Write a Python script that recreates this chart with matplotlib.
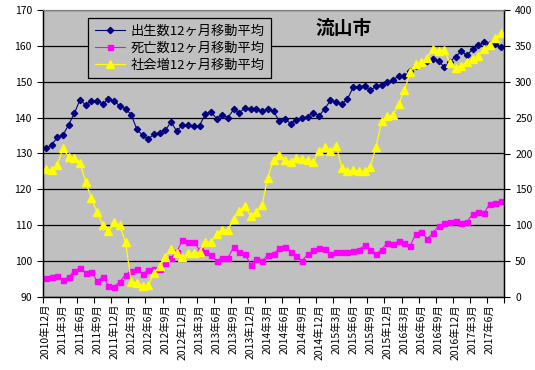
import matplotlib
matplotlib.use("Agg")
import matplotlib.pyplot as plt
import numpy as np

plt.rcParams['font.family'] = ['Noto Sans CJK JP', 'DejaVu Sans']

# 12-month moving averages, monthly from 2010/12 to 2017/8
births = [131.4, 132.3, 134.5, 135.1, 138.0, 141.2, 145.0, 143.5, 144.7, 144.7,
          143.8, 145.1, 144.7, 143.2, 142.5, 140.8, 136.7, 135.1, 134.1, 135.3,
          135.8, 136.5, 138.8, 136.2, 138.0, 138.0, 137.6, 137.8, 140.9, 141.7,
          139.7, 140.8, 140.0, 142.3, 141.4, 142.7, 142.3, 142.3, 141.8, 142.3,
          141.9, 139.0, 139.7, 138.3, 139.4, 139.9, 140.2, 141.4, 140.5, 142.4,
          144.8, 144.3, 143.8, 145.2, 148.5, 148.5, 148.9, 147.6, 148.7, 149.2,
          149.8, 150.5, 151.6, 151.6, 152.9, 154.3, 155.2, 155.8, 156.3, 155.8,
          154.1, 155.6, 157.0, 158.5, 157.4, 159.1, 160.2, 161.0, 160.4, 160.6,
          159.6]
deaths = [95.4, 95.6, 95.9, 94.7, 95.6, 97.3, 98.1, 96.8, 96.9, 94.5,
          95.6, 93.2, 92.9, 94.3, 96.2, 97.3, 97.9, 96.5, 97.5, 97.8,
          97.9, 99.4, 100.9, 102.6, 105.8, 105.4, 105.4, 103.1, 102.6, 101.7,
          100.1, 100.9, 100.9, 103.9, 102.6, 101.9, 99.0, 100.6, 100.1, 101.7,
          102.0, 103.6, 103.8, 102.6, 101.4, 100.1, 101.9, 103.0, 103.7, 103.3,
          101.9, 102.6, 102.6, 102.6, 102.9, 103.2, 104.4, 103.2, 101.9, 103.2,
          105.1, 104.7, 105.6, 105.1, 104.3, 107.5, 108.1, 106.1, 107.9, 109.7,
          110.5, 110.8, 111.2, 110.6, 110.9, 113.2, 113.7, 113.4, 116.0, 116.2,
          116.8]
social = [178.9, 176.6, 183.6, 207.0, 195.3, 193.9, 187.4, 160.2, 137.7, 118.5,
          100.7, 91.3, 104.0, 99.8, 76.3, 21.1, 19.7, 15.9, 16.9, 32.8,
          43.5, 56.0, 66.5, 61.4, 55.3, 61.0, 61.0, 62.3, 76.3, 76.3,
          87.6, 93.7, 93.7, 108.7, 120.4, 127.4, 112.4, 118.5, 128.8, 166.3,
          191.5, 198.1, 191.1, 188.3, 194.4, 193.0, 191.1, 188.3, 203.7, 208.9,
          203.7, 210.7, 180.4, 175.7, 177.1, 175.7, 175.7, 181.8, 208.4, 244.9,
          251.9, 253.7, 269.4, 288.0, 313.0, 324.5, 328.2, 332.9, 345.4, 343.5,
          344.4, 325.9, 319.0, 322.2, 327.8, 331.5, 336.1, 346.3, 351.4, 360.6,
          368.5]
tick_labels = ["2010年12月", "2011年3月", "2011年6月", "2011年9月", "2011年12月",
               "2012年3月", "2012年6月", "2012年9月", "2012年12月",
               "2013年3月", "2013年6月", "2013年9月", "2013年12月",
               "2014年3月", "2014年6月", "2014年9月", "2014年12月",
               "2015年3月", "2015年6月", "2015年9月", "2015年12月",
               "2016年3月", "2016年6月", "2016年9月", "2016年12月",
               "2017年3月", "2017年6月"]
labels = ["出生数12ヶ月移動平均", "死亡数12ヶ月移動平均", "社会増12ヶ月移動平均"]

x = np.arange(len(births))

fig = plt.figure(figsize=(5.35, 3.7), dpi=100)
ax = fig.add_axes([43/535, 1-297/370, (504-43)/535, (297-10)/370])
ax.set_facecolor('#C0C0C0')
ax2 = ax.twinx()

l1, = ax.plot(x, births, color='#000080', lw=0.8, marker='D', ms=3.2, label=labels[0])
l2, = ax.plot(x, deaths, color='#FF00FF', lw=0.8, marker='s', ms=3.6, label=labels[1])
l3, = ax2.plot(x, social, color='#FFFF00', lw=0.9, marker='^', ms=5.5, label=labels[2])

ax.set_xlim(-0.5, len(x) - 0.5)
ax.set_ylim(90, 170)
ax.set_yticks(np.arange(90, 171, 10))
ax2.set_ylim(0, 400)
ax2.set_yticks(np.arange(0, 401, 50))
ax.yaxis.grid(True, color='black', lw=0.9)
ax.set_axisbelow(True)

ax.set_xticks(x[::3])
ax.set_xticklabels(tick_labels, rotation=90, fontsize=7.5)
ax.set_xticks(np.arange(-0.5, len(x), 3), minor=True)
ax.tick_params(axis='x', which='major', length=0, pad=5)
ax.tick_params(axis='x', which='minor', length=4, direction='out', width=0.8)
ax.tick_params(axis='y', labelsize=7.5, length=4, width=0.8, pad=4)
ax2.tick_params(axis='y', labelsize=7.5, length=4, width=0.8, pad=4)

for a in (ax, ax2):
    a.spines['top'].set_color('#808080')
    for s in ('left', 'right', 'bottom'):
        a.spines[s].set_linewidth(0.9)

leg = ax2.legend(handles=[l1, l2, l3], loc='upper left',
                 bbox_to_anchor=(88/535, 1-18/370), bbox_transform=fig.transFigure,
                 borderaxespad=0, fontsize=9.5, facecolor='#C0C0C0', edgecolor='black',
                 fancybox=False, framealpha=1, handlelength=2.3, labelspacing=0.3,
                 borderpad=0.5, handletextpad=0.4)
leg.get_frame().set_linewidth(0.9)

fig.text(344/535, 1-28/370, "流山市", fontsize=13.5, fontweight='bold',
         ha='center', va='center')

fig.savefig("out.png", dpi=100)
